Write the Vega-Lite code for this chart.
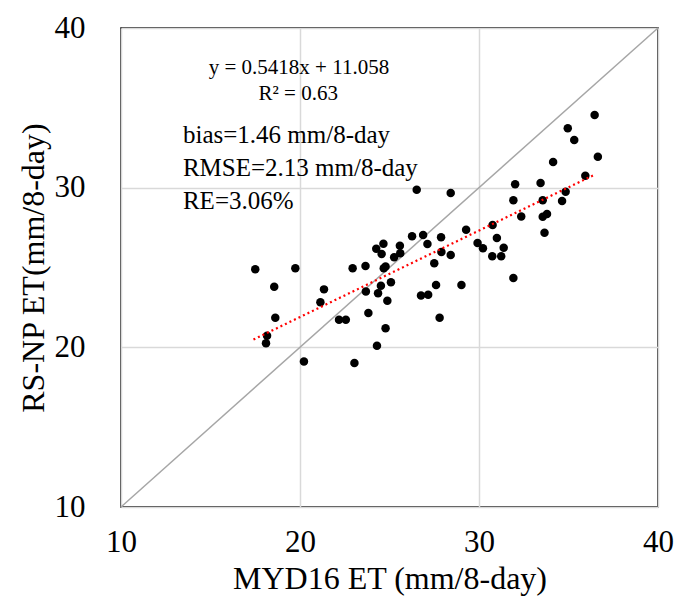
{
  "$schema": "https://vega.github.io/schema/vega-lite/v6.json",
  "width": 537,
  "height": 479,
  "autosize": "none",
  "padding": {"left": 121, "top": 28, "right": 18, "bottom": 97},
  "background": "white",
  "config": {
    "view": {"stroke": "black", "strokeWidth": 1.5},
    "axis": {
      "labelFont": "Liberation Serif",
      "labelFontSize": 31,
      "labelColor": "black",
      "labelFlush": false,
      "titleFont": "Liberation Serif",
      "titleFontSize": 32,
      "titleFontWeight": "normal",
      "titleColor": "black",
      "gridColor": "#d9d9d9",
      "gridWidth": 1.5,
      "ticks": false,
      "domain": false
    }
  },
  "encoding": {
    "x": {
      "field": "x", "type": "quantitative",
      "scale": {"domain": [10, 40], "nice": false},
      "axis": {"values": [10, 20, 30, 40], "title": "MYD16 ET (mm/8-day)", "labelPadding": 20, "titlePadding": 6}
    },
    "y": {
      "field": "y", "type": "quantitative",
      "scale": {"domain": [10, 40], "nice": false},
      "axis": {"values": [10, 20, 30, 40], "title": "RS-NP ET(mm/8-day)", "labelPadding": 36, "titlePadding": 4}
    }
  },
  "layer": [
    {
      "data": {"values": [{"x": 10, "y": 10}, {"x": 40, "y": 40}]},
      "mark": {"type": "line", "color": "#a6a6a6", "strokeWidth": 1.5},
      "encoding": {}
    },
    {
      "data": {"values": [
        {"x": 17.5, "y": 24.89}, {"x": 19.74, "y": 24.95}, {"x": 18.56, "y": 23.8}, {"x": 18.62, "y": 21.86},
        {"x": 18.16, "y": 20.73}, {"x": 18.1, "y": 20.25}, {"x": 20.22, "y": 19.12}, {"x": 23.04, "y": 19.02},
        {"x": 21.14, "y": 22.82}, {"x": 21.34, "y": 23.63}, {"x": 22.18, "y": 21.73}, {"x": 22.56, "y": 21.73},
        {"x": 22.94, "y": 24.95}, {"x": 23.66, "y": 25.09}, {"x": 23.68, "y": 23.49}, {"x": 23.82, "y": 22.15},
        {"x": 24.3, "y": 20.1}, {"x": 24.78, "y": 21.19}, {"x": 24.36, "y": 23.38}, {"x": 24.52, "y": 23.86},
        {"x": 24.88, "y": 22.92}, {"x": 25.08, "y": 24.07}, {"x": 24.68, "y": 24.95}, {"x": 24.78, "y": 25.07},
        {"x": 24.26, "y": 26.18}, {"x": 24.66, "y": 26.49}, {"x": 24.56, "y": 25.85}, {"x": 25.58, "y": 26.37},
        {"x": 25.26, "y": 25.64}, {"x": 25.6, "y": 25.89}, {"x": 26.26, "y": 26.95}, {"x": 26.88, "y": 27.04},
        {"x": 27.12, "y": 26.47}, {"x": 26.52, "y": 29.87}, {"x": 28.42, "y": 29.67}, {"x": 27.88, "y": 26.89},
        {"x": 27.9, "y": 25.97}, {"x": 27.5, "y": 25.26}, {"x": 28.42, "y": 25.78}, {"x": 26.76, "y": 23.24},
        {"x": 27.16, "y": 23.3}, {"x": 27.6, "y": 23.9}, {"x": 27.8, "y": 21.86}, {"x": 29.02, "y": 23.9},
        {"x": 29.28, "y": 27.37}, {"x": 29.92, "y": 26.53}, {"x": 30.22, "y": 26.2}, {"x": 30.76, "y": 27.66},
        {"x": 31.0, "y": 26.85}, {"x": 30.74, "y": 25.7}, {"x": 31.24, "y": 25.7}, {"x": 31.38, "y": 26.24},
        {"x": 31.92, "y": 24.34}, {"x": 32.02, "y": 30.21}, {"x": 31.92, "y": 29.21}, {"x": 32.36, "y": 28.2},
        {"x": 33.44, "y": 30.29}, {"x": 33.56, "y": 29.21}, {"x": 33.56, "y": 28.18}, {"x": 33.8, "y": 28.35},
        {"x": 33.66, "y": 27.18}, {"x": 34.14, "y": 31.61}, {"x": 34.64, "y": 29.17}, {"x": 34.84, "y": 29.75},
        {"x": 34.96, "y": 33.72}, {"x": 35.32, "y": 32.99}, {"x": 35.94, "y": 30.75}, {"x": 36.46, "y": 34.55},
        {"x": 36.64, "y": 31.94}
      ]},
      "mark": {"type": "circle", "color": "black", "opacity": 1, "size": 72}
    },
    {
      "data": {"values": [{"x": 17.4, "y": 20.49}, {"x": 36.4, "y": 30.78}]},
      "mark": {"type": "line", "color": "#ff0000", "strokeWidth": 2.2, "strokeDash": [2, 3]},
      "encoding": {}
    },
    {
      "data": {"values": [
        {"x": 19.94, "y": 37.14, "label": "y = 0.5418x + 11.058"},
        {"x": 19.9, "y": 35.49, "label": "R² = 0.63"}
      ]},
      "mark": {"type": "text", "font": "Liberation Serif", "fontSize": 21, "align": "center", "baseline": "alphabetic", "color": "black"},
      "encoding": {"text": {"field": "label"}}
    },
    {
      "data": {"values": [
        {"x": 13.46, "y": 32.8, "label": "bias=1.46 mm/8-day"},
        {"x": 13.46, "y": 30.73, "label": "RMSE=2.13 mm/8-day"},
        {"x": 13.46, "y": 28.69, "label": "RE=3.06%"}
      ]},
      "mark": {"type": "text", "font": "Liberation Serif", "fontSize": 25, "align": "left", "baseline": "alphabetic", "color": "black"},
      "encoding": {"text": {"field": "label"}}
    }
  ]
}
